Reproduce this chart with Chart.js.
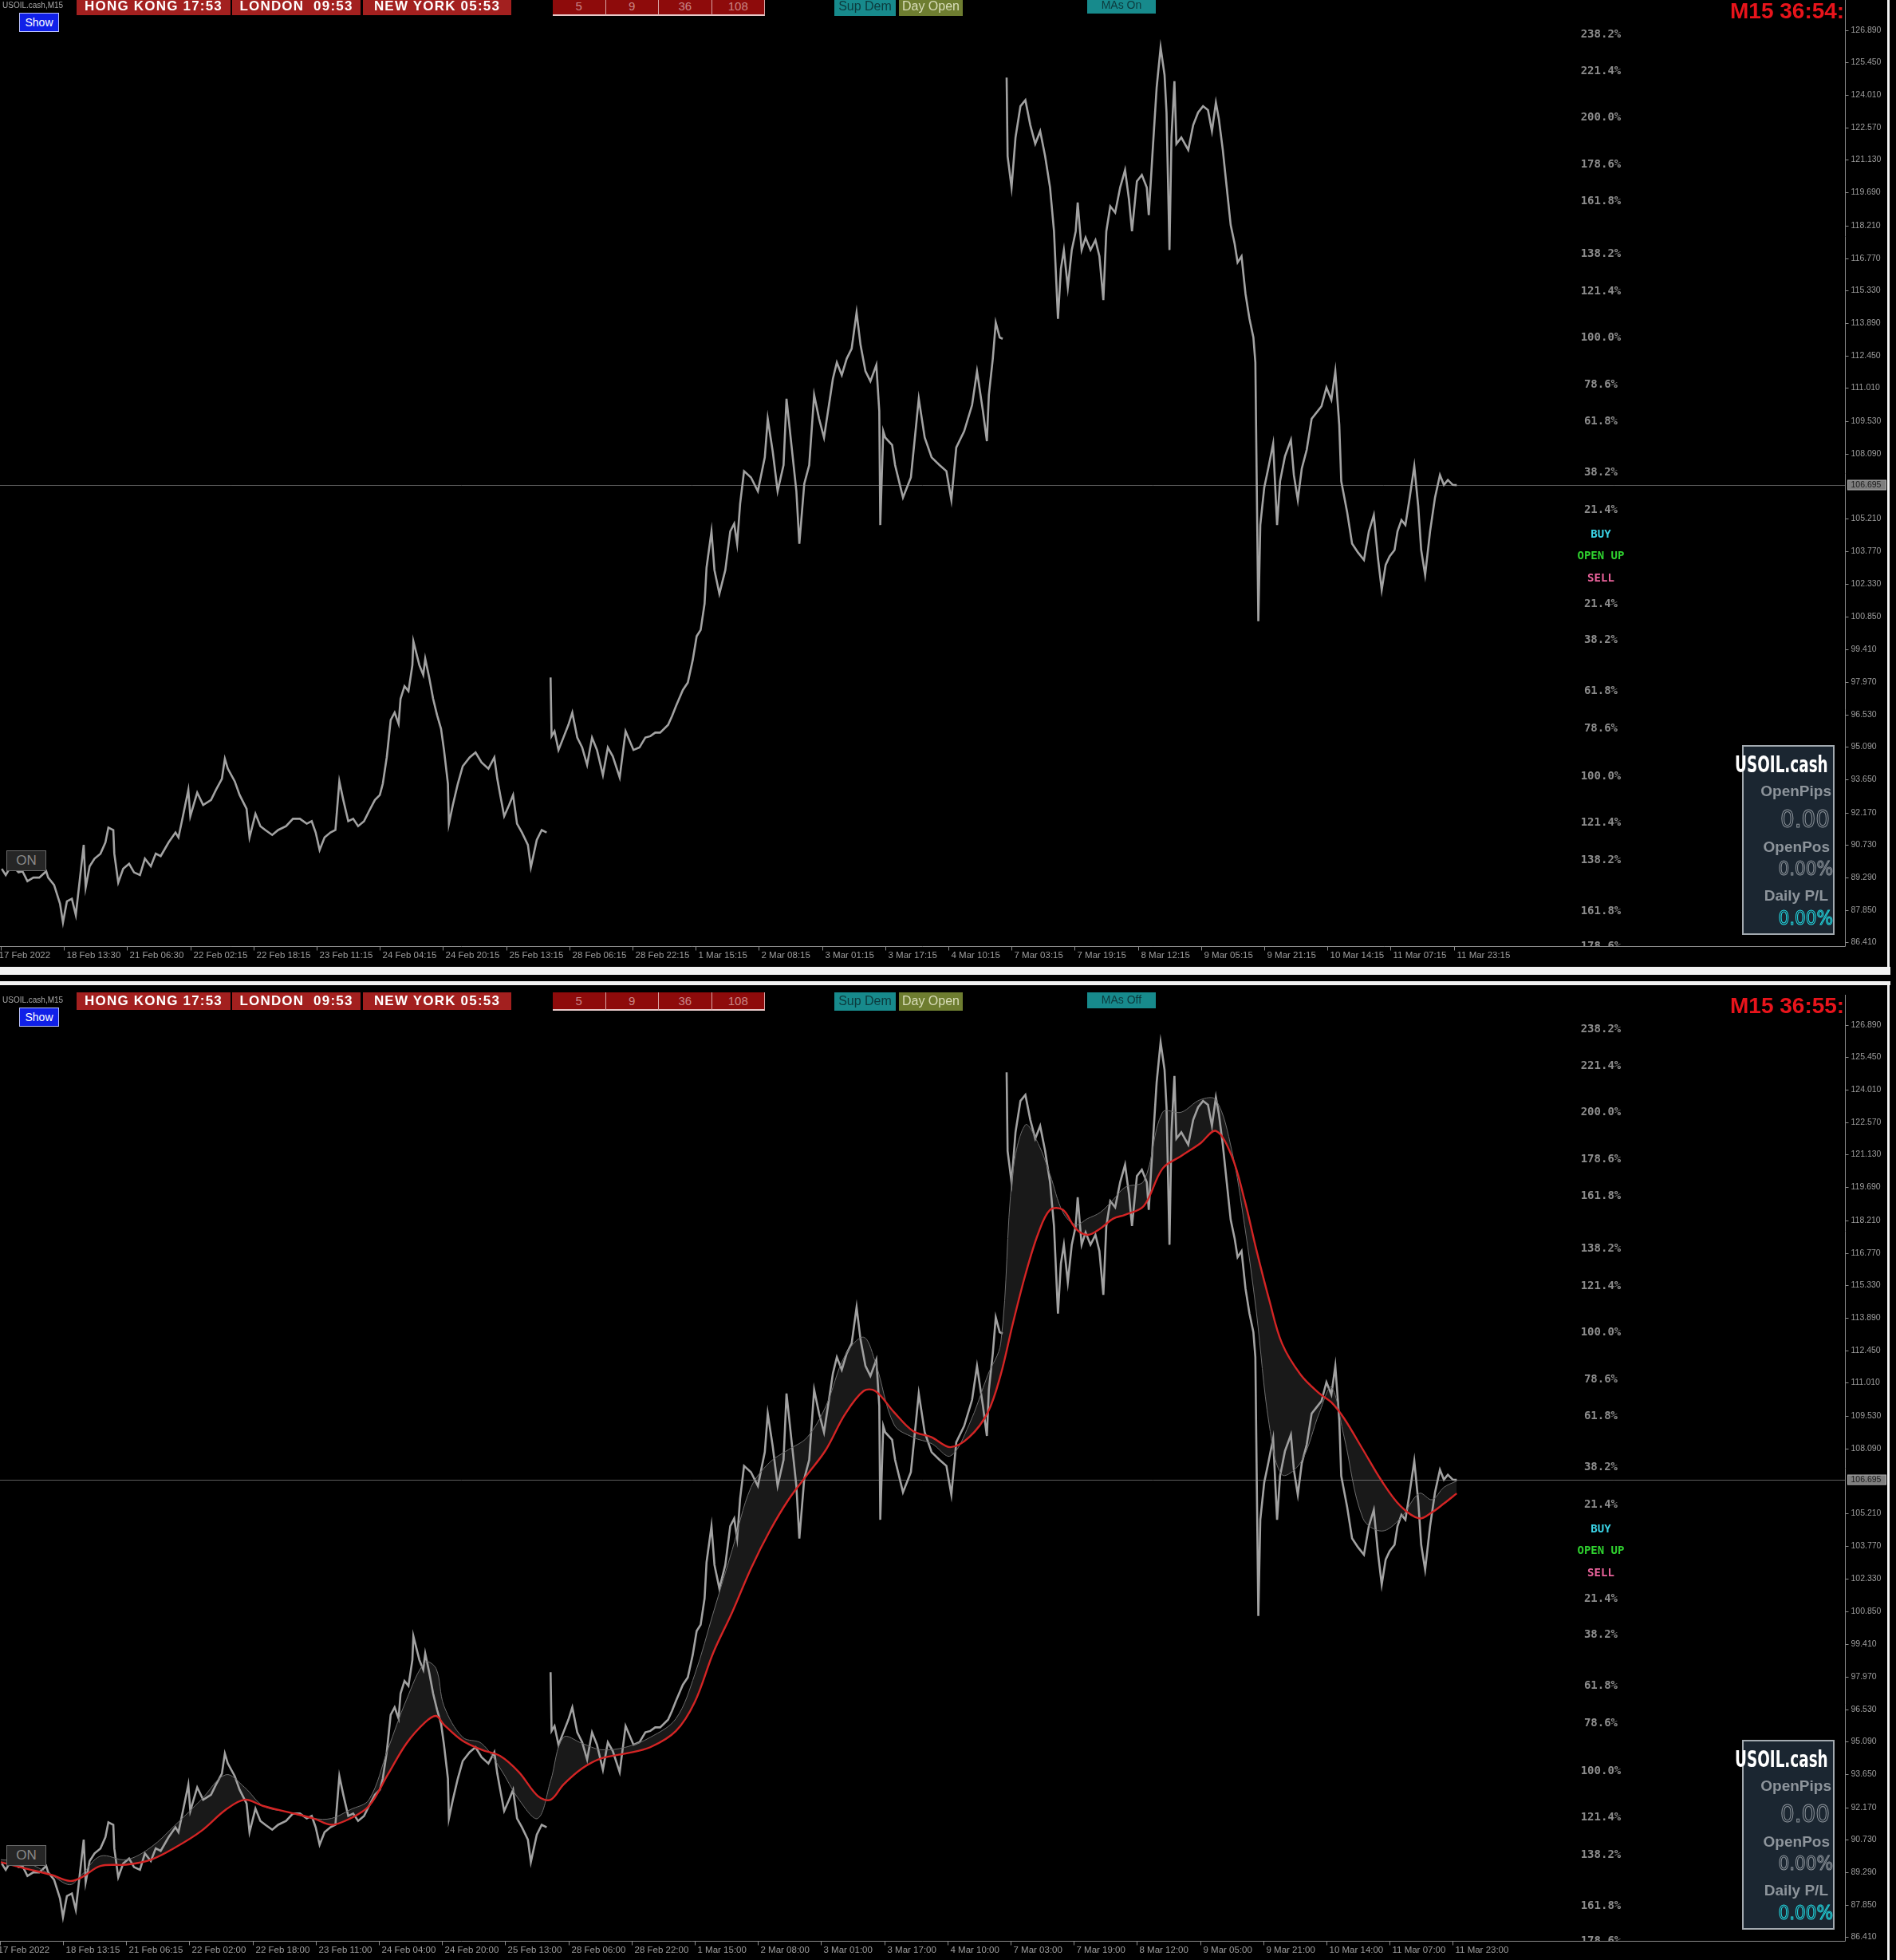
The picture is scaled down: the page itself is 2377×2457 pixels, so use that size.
<!DOCTYPE html>
<html>
<head>
<meta charset="utf-8">
<title>USOIL.cash M15</title>
<script src="https://cdn.jsdelivr.net/npm/chart.js@4.4.1/dist/chart.umd.min.js"></script>
<style>
  html, body { margin: 0; padding: 0; background: #000; }
  body { position: relative; width: 2377px; height: 2457px; overflow: hidden; font-family: Arial, "Liberation Sans", sans-serif; }
  canvas { position: absolute; left: 0; }
  .o { position: absolute; box-sizing: border-box; white-space: pre; }
  .sym { color: #a9a9a9; font-size: 10px; line-height: 12px; }
  .city { background: #a3201f; color: #fff; font-weight: bold; font-size: 17px; letter-spacing: 1.2px; text-align: center; line-height: 22px; height: 22px; }
  .per { background: #8e0b0b; color: #c98585; font-size: 15px; text-align: center; line-height: 21px; height: 23px; border-right: 1px solid #d9a5a5; border-bottom: 2px solid #e9c9c9; }
  .btn { font-size: 16px; text-align: center; line-height: 22px; height: 23px; overflow: hidden; }
  .sup { background: #178a8c; color: #0c3a3d; }
  .day { background: #6e7d30; color: #d9ddb9; }
  .mas { background: #178a8c; color: #0c3a3d; font-size: 14px; height: 20px; line-height: 19px; }
  .show { background: #1020e8; color: #fff; border: 1px solid #b8c0ff; font-size: 14px; text-align: center; line-height: 22px; }
  .timer { color: #e8141b; font-weight: bold; font-size: 28px; line-height: 28px; overflow: hidden; }
  .info { background: #1b2631; border: 2px solid #a3aab0; }
  .itxt { text-align: right; color: #8d949b; font-weight: bold; }
  .ititle { color: #fff; font-weight: bold; font-family: "DejaVu Sans Condensed", "Liberation Sans Narrow", Arial, sans-serif; font-size: 28px; line-height: 28px; transform: scaleX(0.73); transform-origin: left center; }
  .digit { font-family: "Liberation Sans Narrow", "DejaVu Sans Condensed", Arial, sans-serif; color: transparent; -webkit-text-stroke: 1px #8d949b; text-align: right; }
  .onbox { background: #262626; border: 1px solid #6a6a6a; color: #8a8a8a; font-size: 17px; text-align: center; line-height: 24px; }
  .white { background: #f2f2f2; }
</style>
</head>
<body>
<canvas id="topChart" width="2366" height="1212" style="top:0;width:2366px;height:1212px"></canvas>
<canvas id="bottomChart" width="2366" height="1210" style="top:1247px;width:2366px;height:1210px"></canvas>
<script>
// ---- data ----
const SYMBOL = "USOIL.cash";
const PERIOD = "M15";
const CITY_CLOCKS = ["HONG KONG 17:53", "LONDON  09:53", "NEW YORK 05:53"];
const MA_PERIODS = ["5", "9", "36", "108"];
const LAST_PRICE = 106.695;
const BARS_PER_LABEL = 64;

// bar index (M15 bars from the first visible one) and price
const priceBars = [
  1, 5, 11, 18, 22, 27, 33, 39, 46, 48,
  54, 60, 63, 67, 72, 76, 80, 84, 86, 90,
  95, 101, 106, 109, 114, 115, 119, 124, 130, 135,
  141, 146, 152, 157, 162, 170, 177, 180, 184, 190,
  192, 199, 205, 213, 218, 224, 227, 230, 237, 242,
  249, 252, 258, 263, 268, 275, 281, 289, 296, 303,
  310, 315, 319, 323, 328, 334, 339, 343, 347, 352,
  357, 362, 368, 373, 379, 384, 387, 391, 395, 399,
  403, 405, 409, 413, 417, 418, 424, 428, 430, 434,
  438, 442, 446, 449, 453, 454, 458, 463, 468, 475,
  481, 487, 494, 500, 503, 506, 510, 515, 519, 523,
  528, 534, 537, 543, 548, 553, 555, 557, 558, 561,
  565, 570, 575, 579, 584, 589, 594, 599, 604, 610,
  615, 620, 627, 633, 641, 647, 653, 658, 663, 668,
  676, 680, 684, 691, 696, 701, 705, 709, 713, 715,
  720, 723, 728, 734, 739, 743, 746, 749, 753, 760,
  767, 774, 777, 782, 787, 793, 796, 801, 806, 809,
  814, 819, 824, 829, 834, 839, 843, 847, 852, 857,
  862, 867, 871, 876, 881, 887, 890, 891, 894, 896,
  903, 906, 914, 922, 930, 936, 943, 951, 958, 963,
  968, 976, 984, 989, 995, 999, 1001, 1005, 1008, 1012,
  1015, 1017, 1019, 1020, 1024, 1028, 1033, 1038, 1043, 1048,
  1053, 1058, 1063, 1067, 1071, 1074, 1077, 1081, 1085, 1089,
  1091, 1095, 1099, 1104, 1109, 1113, 1117, 1120, 1124, 1129,
  1134, 1139, 1143, 1146, 1151, 1156, 1161, 1163, 1167, 1171,
  1175, 1179, 1181, 1184, 1186, 1189, 1191, 1196, 1203, 1208,
  1213, 1218, 1223, 1227, 1231, 1234, 1238, 1242, 1246, 1250,
  1253, 1257, 1261, 1265, 1269, 1271, 1274, 1276, 1280, 1284,
  1289, 1293, 1296, 1301, 1307, 1310, 1314, 1318, 1323, 1328,
  1333, 1338, 1343, 1348, 1352, 1356, 1358, 1364, 1369, 1375,
  1381, 1386, 1391, 1395, 1399, 1403, 1407, 1412, 1415, 1419,
  1423, 1427, 1432, 1436, 1439, 1443, 1448, 1453, 1458, 1462,
  1466, 1471, 1475
];
const priceClose = [
  89.68, 89.40, 89.85, 89.52, 89.57, 89.13, 89.29, 89.29, 89.57, 89.29,
  88.96, 88.13, 87.30, 88.24, 88.35, 87.63, 89.18, 90.74, 88.85, 89.79,
  90.13, 90.35, 90.85, 91.51, 91.40, 90.35, 89.07, 89.68, 89.90, 89.52,
  89.40, 90.13, 89.79, 90.35, 90.24, 90.85, 91.29, 91.07, 91.90, 93.18,
  92.01, 93.06, 92.51, 92.73, 93.18, 93.67, 94.56, 94.12, 93.56, 92.95,
  92.34, 91.07, 92.12, 91.57, 91.40, 91.18, 91.40, 91.57, 91.90, 91.90,
  91.68, 91.79, 91.29, 90.51, 91.07, 91.29, 91.40, 93.56, 92.73, 91.79,
  91.90, 91.57, 91.79, 92.23, 92.73, 92.95, 93.45, 94.62, 96.28, 96.61,
  96.11, 97.22, 97.78, 97.56, 98.72, 99.77, 98.72, 98.28, 99.00, 98.17,
  97.22, 96.50, 95.89, 94.95, 93.45, 91.68, 92.51, 93.45, 94.23, 94.62,
  94.84, 94.40, 94.12, 94.62, 93.67, 92.95, 92.01, 92.51, 92.95, 91.68,
  91.29, 90.74, 89.74, 90.96, 91.40, 91.29, null, 98.17, 95.56, 95.78,
  94.95, 95.50, 96.06, 96.61, 95.50, 95.06, 94.29, 95.50, 94.95, 93.84,
  95.06, 94.67, 93.73, 95.78, 94.95, 95.06, 95.50, 95.56, 95.72, 95.72,
  96.06, 96.45, 96.89, 97.61, 97.94, 98.94, 100.00, 100.27, 101.44, 103.05,
  104.65, 102.93, 101.88, 102.93, 104.65, 104.99, 104.10, 105.87, 107.32, 107.04,
  106.43, 107.93, 109.64, 108.20, 106.43, 107.59, 110.53, 108.48, 106.43, 104.10,
  106.76, 107.59, 110.70, 109.64, 108.81, 110.25, 111.42, 112.14, 111.58, 112.31,
  112.75, 114.36, 112.92, 111.75, 111.31, 112.03, 109.98, 104.93, 109.09, 108.81,
  108.48, 107.59, 106.15, 107.04, 110.53, 108.81, 107.93, 107.59, 107.32, 106.04,
  108.37, 109.09, 110.25, 111.75, 109.98, 108.65, 110.70, 112.31, 113.91, 113.25,
  113.19, null, 124.78, 121.29, 119.90, 122.12, 123.51, 123.78, 122.67, 121.84,
  122.40, 121.29, 119.90, 117.96, 114.08, 116.30, 117.13, 115.47, 117.13, 117.96,
  119.24, 117.13, 117.68, 117.13, 117.57, 116.85, 114.91, 117.96, 119.07, 118.79,
  119.90, 120.68, 119.35, 117.96, 120.18, 120.46, 119.90, 118.68, 121.57, 124.34,
  126.11, 124.89, 123.23, 117.13, 122.12, 124.62, 121.84, 122.12, 121.57, 122.67,
  123.23, 123.51, 123.34, 122.40, 123.67, 122.95, 121.57, 119.90, 118.24, 117.41,
  116.58, 116.85, 115.19, 114.08, 113.25, 112.14, 100.66, 104.93, 106.59, 107.43,
  108.54, 104.93, 106.87, 107.98, 108.70, 107.15, 106.04, 107.43, 108.26, 109.64,
  109.92, 110.20, 111.03, 110.48, 111.75, 109.37, 106.87, 105.49, 104.10, 103.71,
  103.38, 104.65, 105.37, 103.54, 102.05, 103.16, 103.54, 103.82, 104.65, 105.15,
  104.93, 106.04, 107.54, 105.76, 103.82, 102.71, 104.65, 106.15, 107.15, 106.71,
  106.93, 106.71, 106.70
];

// moving averages shown in the lower panel
const maBars = [
  0, 25, 51, 70, 82, 101, 127, 152, 177, 203,
  228, 247, 266, 291, 317, 335, 354, 373, 392, 411,
  430, 441, 449, 468, 487, 506, 525, 544, 557, 570,
  589, 608, 633, 658, 684, 703, 722, 741, 760, 779,
  798, 817, 836, 855, 874, 886, 905, 924, 943, 962,
  981, 1000, 1013, 1025, 1038, 1051, 1063, 1076, 1089, 1101,
  1114, 1127, 1139, 1158, 1177, 1196, 1215, 1231, 1247, 1260,
  1272, 1285, 1298, 1317, 1336, 1348, 1361, 1380, 1399, 1418,
  1437, 1450, 1462, 1475
];
const maSlow = [
  89.74, 89.46, 89.18, 88.91, 89.07, 89.57, 89.63, 89.85, 90.40, 91.12,
  92.07, 92.51, 92.23, 91.96, 91.68, 91.40, 91.68, 92.23, 93.62, 95.01,
  95.95, 96.23, 95.84, 95.12, 94.73, 94.45, 93.73, 92.68, 92.51, 93.18,
  93.90, 94.34, 94.56, 94.84, 95.56, 96.84, 99.05, 100.83, 102.77, 104.43,
  105.82, 106.93, 108.04, 109.59, 110.64, 110.64, 109.70, 108.87, 108.59, 108.15,
  108.59, 109.70, 111.36, 113.58, 115.80, 117.63, 118.68, 118.68, 117.85, 117.57,
  117.85, 118.29, 118.46, 118.85, 120.51, 121.07, 121.62, 122.18, 121.07, 119.13,
  116.91, 114.69, 112.75, 111.36, 110.53, 110.14, 109.42, 108.04, 106.65, 105.54,
  104.99, 105.26, 105.65, 106.10
];
const maFast = [
  89.85, 89.74, 89.18, 88.74, 89.18, 90.01, 89.85, 90.40, 91.40, 92.51,
  93.62, 93.06, 92.23, 91.96, 91.68, 91.68, 92.07, 92.51, 94.73, 96.95,
  98.61, 98.33, 96.67, 95.28, 95.01, 93.90, 92.51, 91.68, 93.34, 95.28,
  95.01, 94.73, 94.84, 95.28, 96.11, 98.06, 100.83, 103.60, 106.37, 107.48,
  108.04, 108.59, 109.98, 112.19, 113.03, 111.92, 109.15, 108.59, 108.31, 107.76,
  109.15, 111.36, 112.75, 120.24, 122.45, 121.62, 120.24, 118.57, 118.02, 118.29,
  118.57, 119.13, 119.68, 119.96, 123.01, 123.01, 123.56, 123.56, 121.34, 118.02,
  114.14, 109.15, 106.93, 107.48, 109.70, 110.81, 108.59, 104.99, 104.43, 104.99,
  106.10, 105.82, 106.37, 106.65
];

// price scale labels
const priceTicks = [
  126.890, 125.450, 124.010, 122.570, 121.130, 119.690, 118.210, 116.770, 115.330, 113.890,
  112.450, 111.010, 109.530, 108.090, 105.210, 103.770, 102.330, 100.850, 99.410, 97.970,
  96.530, 95.090, 93.650, 92.170, 90.730, 89.290, 87.850, 86.410
];

// time labels, one every 64 bars
const topTimeLabels = [
  "17 Feb 2022", "18 Feb 13:30", "21 Feb 06:30", "22 Feb 02:15", "22 Feb 18:15", "23 Feb 11:15",
  "24 Feb 04:15", "24 Feb 20:15", "25 Feb 13:15", "28 Feb 06:15", "28 Feb 22:15", "1 Mar 15:15",
  "2 Mar 08:15", "3 Mar 01:15", "3 Mar 17:15", "4 Mar 10:15", "7 Mar 03:15", "7 Mar 19:15",
  "8 Mar 12:15", "9 Mar 05:15", "9 Mar 21:15", "10 Mar 14:15", "11 Mar 07:15", "11 Mar 23:15"
];
const bottomTimeLabels = [
  "17 Feb 2022", "18 Feb 13:15", "21 Feb 06:15", "22 Feb 02:00", "22 Feb 18:00", "23 Feb 11:00",
  "24 Feb 04:00", "24 Feb 20:00", "25 Feb 13:00", "28 Feb 06:00", "28 Feb 22:00", "1 Mar 15:00",
  "2 Mar 08:00", "3 Mar 01:00", "3 Mar 17:00", "4 Mar 10:00", "7 Mar 03:00", "7 Mar 19:00",
  "8 Mar 12:00", "9 Mar 05:00", "9 Mar 21:00", "10 Mar 14:00", "11 Mar 07:00", "11 Mar 23:00"
];

// fibonacci / signal labels drawn by the indicator
const fibLabels = [
  "238.2%", "221.4%", "200.0%", "178.6%", "161.8%", "138.2%", "121.4%", "100.0%", "78.6%", "61.8%",
  "38.2%", "21.4%", "BUY", "OPEN UP", "SELL", "21.4%", "38.2%", "61.8%", "78.6%", "100.0%",
  "121.4%", "138.2%", "161.8%", "178.6%"
];
const fibPrices = [
  126.67, 125.06, 123.01, 120.90, 119.29, 116.96, 115.30, 113.25, 111.14, 109.53,
  107.26, 105.59, 104.48, 103.54, 102.54, 101.43, 99.83, 97.56, 95.89, 93.79,
  91.73, 90.07, 87.80, 86.25
];
const FIB_BAR = 1621;
const FIB_COLORS = { "BUY": "#3bd3e6", "OPEN UP": "#2fd12f", "SELL": "#e8629a" };

// ---- chart plumbing ----
const mtPlugin = {
  id: "mt",
  beforeDatasetsDraw(chart) {
    const { ctx, chartArea: a, scales: { y } } = chart;
    const py = Math.round(y.getPixelForValue(LAST_PRICE)) + 0.5;
    ctx.save();
    ctx.strokeStyle = "#5c5c5c";
    ctx.lineWidth = 1;
    ctx.beginPath(); ctx.moveTo(a.left, py); ctx.lineTo(a.right, py); ctx.stroke();
    ctx.restore();
  },
  afterDatasetsDraw(chart, args, o) {
    const { ctx, chartArea: a, scales: { x, y } } = chart;

    // indicator labels, clipped to the plot
    ctx.save();
    ctx.beginPath(); ctx.rect(a.left, a.top, a.right - a.left, a.bottom - a.top); ctx.clip();
    ctx.font = 'bold 14px "DejaVu Sans Mono", monospace';
    ctx.textAlign = "center"; ctx.textBaseline = "middle";
    const fx = x.getPixelForValue(FIB_BAR);
    fibLabels.forEach((t, i) => {
      ctx.fillStyle = FIB_COLORS[t] || "#8c8c8c";
      ctx.fillText(t, fx, y.getPixelForValue(fibPrices[i]));
    });
    ctx.restore();

    // axes lines
    ctx.save();
    ctx.strokeStyle = "#8a8a8a"; ctx.lineWidth = 1;
    const rx = a.right + 0.5, by = a.bottom + 0.5;
    ctx.beginPath();
    ctx.moveTo(rx, a.top); ctx.lineTo(rx, by);
    ctx.moveTo(a.left, by); ctx.lineTo(rx, by);
    ctx.stroke();

    // price scale
    ctx.font = "10.5px Arial";
    ctx.fillStyle = "#9e9e9e";
    ctx.textAlign = "left"; ctx.textBaseline = "middle";
    priceTicks.forEach((v) => {
      const py = Math.round(y.getPixelForValue(v)) + 0.5;
      ctx.beginPath(); ctx.moveTo(rx, py); ctx.lineTo(rx + 4, py); ctx.stroke();
      ctx.fillText(v.toFixed(3), rx + 7, py);
    });

    // last price box
    const ly = Math.round(y.getPixelForValue(LAST_PRICE));
    ctx.fillStyle = "#7d7d7d";
    ctx.fillRect(rx + 3, ly - 6, 48, 12);
    ctx.strokeStyle = "#b0b0b0";
    ctx.strokeRect(rx + 3, ly - 6, 48, 12);
    ctx.fillStyle = "#1c1c1c";
    ctx.fillText(LAST_PRICE.toFixed(3), rx + 7, ly);

    // time scale
    ctx.strokeStyle = "#8a8a8a";
    ctx.fillStyle = "#9e9e9e";
    ctx.font = "11.5px Arial";
    o.timeLabels.forEach((t, i) => {
      const px = Math.round(x.getPixelForValue(i * BARS_PER_LABEL + o.shift)) + 0.5;
      ctx.beginPath(); ctx.moveTo(px, by); ctx.lineTo(px, by + 5); ctx.stroke();
      ctx.fillText(t, i === 0 ? px - 3 : px + 3, by + 11);
    });
    ctx.restore();
  }
};

function points(bars, vals) {
  return bars.map((b, i) => ({ x: b, y: vals[i] }));
}

function priceDataset() {
  return {
    label: SYMBOL, data: points(priceBars, priceClose),
    borderColor: "#a2a2a2", borderWidth: 2.6, pointRadius: 0, tension: 0, spanGaps: false, fill: false
  };
}

function chartOptions(timeLabels, shift, padBottom) {
  return {
    responsive: false, animation: false, devicePixelRatio: 1,
    layout: { padding: { left: 0, top: 0, right: 53, bottom: padBottom } },
    plugins: { legend: { display: false }, tooltip: { enabled: false }, mt: { timeLabels, shift } },
    scales: {
      x: { type: "linear", display: false, min: -0.8, max: 1868.3 },
      y: { type: "linear", display: false, min: 86.25, max: 128.22 }
    },
    elements: { point: { radius: 0 } }
  };
}

new Chart(document.getElementById("topChart"), {
  type: "line",
  data: { datasets: [priceDataset()] },
  options: chartOptions(topTimeLabels, 0, 26),
  plugins: [mtPlugin]
});

new Chart(document.getElementById("bottomChart"), {
  type: "line",
  data: {
    datasets: [
      { label: "MA slow", data: points(maBars, maSlow), borderColor: "#d42424", borderWidth: 2.4, pointRadius: 0, tension: 0.35, fill: false },
      { label: "MA ribbon", data: points(maBars, maFast), borderColor: "#6c6c6c", borderWidth: 1, pointRadius: 0, tension: 0.35,
        fill: "-1", backgroundColor: "rgba(150,150,150,0.17)" },
      priceDataset()
    ]
  },
  options: chartOptions(bottomTimeLabels, -1, 24),
  plugins: [mtPlugin]
});

// ---- terminal overlays (buttons, clocks, info panel) ----
function el(cls, text, css) {
  const d = document.createElement("div");
  d.className = "o " + cls;
  d.textContent = text;
  for (const k in css) d.style[k] = typeof css[k] === "number" ? css[k] + "px" : css[k];
  document.body.appendChild(d);
  return d;
}

function header(t, timer, maLabel) {
  el("sym", SYMBOL + "," + PERIOD, { left: 3, top: t + 4 });
  el("city", CITY_CLOCKS[0], { left: 96, top: t, width: 193 });
  el("city", CITY_CLOCKS[1], { left: 291, top: t, width: 161 });
  el("city", CITY_CLOCKS[2], { left: 455, top: t, width: 186 });
  el("show", "Show", { left: 24, top: t + 19, width: 50, height: 24 });
  MA_PERIODS.forEach((p, i) => el("per", p, { left: 693 + i * 66.5, top: t, width: 66.5 }));
  el("btn sup", "Sup Dem", { left: 1046, top: t, width: 77 });
  el("btn day", "Day Open", { left: 1127, top: t, width: 80 });
  el("btn mas", maLabel, { left: 1363, top: t, width: 86 });
  el("timer", timer, { left: 2169, top: t + 3, width: 2313 - 2169 });
}

function infoPanel(t) {
  el("info", "", { left: 2184, top: t + 934, width: 116, height: 238 });
  el("ititle", SYMBOL, { left: 2175, top: t + 945 });
  el("itxt", "OpenPips", { right: 81, top: t + 982, fontSize: 19, lineHeight: "20px" });
  el("digit", "0.00", { right: 83, top: t + 1010, fontSize: 31, lineHeight: "32px" });
  el("itxt", "OpenPos", { right: 83, top: t + 1052, fontSize: 19, lineHeight: "20px" });
  el("digit", "0.00%", { right: 79, top: t + 1077, fontSize: 24, lineHeight: "25px" });
  el("itxt", "Daily P/L", { right: 85, top: t + 1113, fontSize: 19, lineHeight: "20px" });
  el("digit", "0.00%", { right: 79, top: t + 1139, fontSize: 24, lineHeight: "25px", webkitTextStroke: "1px #22dde6" });
  el("onbox", "ON", { left: 8, top: t + 1066, width: 50, height: 26 });
}

header(-3, "M15 36:54:", "MAs On");
header(1244, "M15 36:55:", "MAs Off");
infoPanel(0);
infoPanel(1247);

// window frame lines
el("white", "", { left: 0, top: 1212, width: 2370, height: 10 });
el("white", "", { left: 0, top: 1230, width: 2370, height: 5 });
el("white", "", { left: 2366, top: 0, width: 3, height: 1222 });
el("white", "", { left: 2366, top: 1230, width: 3, height: 1227 });
</script>
</body>
</html>
